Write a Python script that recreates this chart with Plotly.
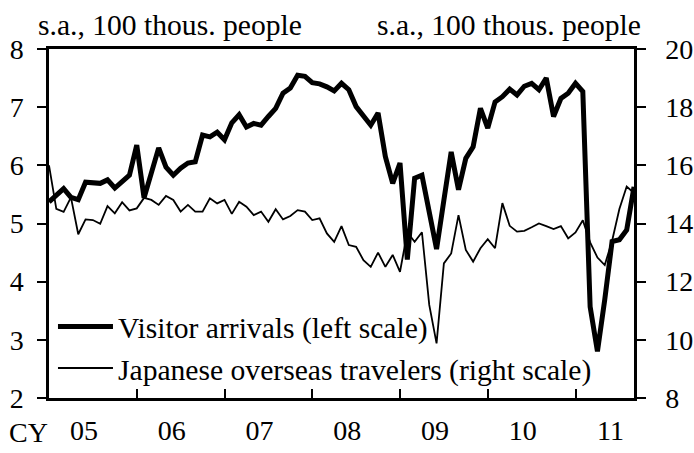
import plotly.graph_objects as go

# Monthly data, Jan 2005 - Sep 2011 (index 0 = Jan 2005)
months = list(range(81))

visitor_arrivals = [
    5.37, 5.49, 5.60, 5.45, 5.41, 5.71, 5.69, 5.69, 5.75, 5.61, 5.72, 5.83,
    6.35, 5.44, 5.87, 6.30, 5.97, 5.83, 5.95, 6.04, 6.06, 6.52, 6.49, 6.57,
    6.44, 6.73, 6.87, 6.66, 6.72, 6.69, 6.84, 6.98, 7.24, 7.33, 7.55, 7.53,
    7.42, 7.40, 7.35, 7.28, 7.41, 7.30, 7.01, 6.84, 6.69, 6.90, 6.15, 5.69,
    6.04, 4.38, 5.78, 5.83, 5.20, 4.56, 5.40, 6.23, 5.58, 6.12, 6.32, 6.98,
    6.64, 7.09, 7.18, 7.31, 7.21, 7.36, 7.41, 7.30, 7.50, 6.84, 7.15, 7.24,
    7.41, 7.27, 3.57, 2.80, 3.69, 4.69, 4.72, 4.89, 5.63,
]

japanese_travelers = [
    16.0, 14.5, 14.4, 14.9, 13.63, 14.14, 14.12, 13.99, 14.6, 14.35, 14.73, 14.45,
    14.52, 14.88, 14.81, 14.64, 14.95, 14.81, 14.41, 14.64, 14.41, 14.41, 14.87, 14.69,
    14.81, 14.33, 14.75, 14.58, 14.29, 14.41, 14.06, 14.49, 14.14, 14.26, 14.46, 14.41,
    14.12, 14.18, 13.66, 13.37, 13.91, 13.26, 13.20, 12.74, 12.51, 13.0, 12.51, 12.92,
    12.34, 13.70, 13.37, 13.70, 11.2, 9.88, 12.63, 12.97, 14.29, 13.09, 12.69, 13.15,
    13.46, 13.15, 14.70, 13.92, 13.72, 13.75, 13.87, 14.0, 13.91, 13.81, 13.91, 13.49,
    13.69, 14.11, 13.35, 12.83, 12.57, 13.40, 14.5, 15.27, 15.05,
]

year_boundaries = [12, 24, 36, 48, 60, 72]
year_label_pos = [4.8, 16.8, 28.8, 40.8, 52.8, 64.8, 76.8]
year_labels = ["05", "06", "07", "08", "09", "10", "11"]

FONT = "Liberation Serif"
TICK_SIZE = 28
TEXT_SIZE = 29.6

fig = go.Figure()
fig.add_trace(go.Scatter(
    x=months, y=visitor_arrivals, mode="lines",
    name="Visitor arrivals (left scale)",
    line=dict(color="black", width=5),
    legendgroup="a", xaxis="x", yaxis="y",
))
fig.add_trace(go.Scatter(
    x=months, y=japanese_travelers, mode="lines",
    name="Japanese overseas travelers (right scale)",
    line=dict(color="black", width=1.8),
    legendgroup="b", xaxis="x", yaxis="y2",
))

fig.update_layout(
    template="none",
    width=694, height=453,
    margin=dict(l=49, r=60, t=49, b=55, pad=0, autoexpand=False),
    paper_bgcolor="white", plot_bgcolor="white",
    font=dict(family=FONT, size=TICK_SIZE, color="black"),
    showlegend=True,
    legend=dict(
        x=0.0068, y=0.2785, xanchor="left", yanchor="top",
        bgcolor="rgba(0,0,0,0)", borderwidth=0,
        font=dict(family=FONT, size=TEXT_SIZE, color="black"),
        tracegroupgap=0, itemwidth=55,
    ),
    xaxis=dict(
        automargin=False, ticklabeloverflow="allow",
        range=[0, 80], tickmode="array", tickvals=year_label_pos, ticktext=year_labels,
        ticks="", ticklabelstandoff=6,
        minor=dict(tickmode="array", tickvals=year_boundaries, ticks="inside",
                   ticklen=9, tickwidth=2, tickcolor="black", showgrid=False),
        showticklabels=True, showline=True, linecolor="black", linewidth=2.5,
        mirror=True, showgrid=False, zeroline=False,
        tickfont=dict(family=FONT, size=TICK_SIZE, color="black"),
    ),
    yaxis=dict(
        automargin=False, ticklabeloverflow="allow",
        range=[2, 8], dtick=1, tick0=2, tickmode="linear",
        ticks="outside", ticklen=9, tickwidth=2, tickcolor="black",
        ticklabelstandoff=8,
        showline=True, linecolor="black", linewidth=2.5,
        showgrid=False, zeroline=False,
        tickfont=dict(family=FONT, size=TICK_SIZE, color="black"),
    ),
    yaxis2=dict(
        automargin=False, ticklabeloverflow="allow",
        range=[8, 20], dtick=2, tick0=8, tickmode="linear",
        overlaying="y", side="right",
        ticks="outside", ticklen=9, tickwidth=2, tickcolor="black",
        ticklabelstandoff=14,
        showline=True, linecolor="black", linewidth=2.5,
        showgrid=False, zeroline=False,
        tickfont=dict(family=FONT, size=TICK_SIZE, color="black"),
    ),
    annotations=[
        dict(text="s.a., 100 thous. people", xref="paper", yref="paper",
             x=(36 - 49) / 585, y=(398 - 25) / 349, xanchor="left", yanchor="middle",
             showarrow=False, font=dict(family=FONT, size=TEXT_SIZE, color="black")),
        dict(text="s.a., 100 thous. people", xref="paper", yref="paper",
             x=(643 - 49) / 585, y=(398 - 25) / 349, xanchor="right", yanchor="middle",
             showarrow=False, font=dict(family=FONT, size=TEXT_SIZE, color="black")),
        dict(text="CY", xref="paper", yref="paper",
             x=(28 - 49) / 585, y=(398 - 432) / 349, xanchor="center", yanchor="middle",
             showarrow=False, font=dict(family=FONT, size=TICK_SIZE, color="black")),
    ],
)

fig.write_html("out.html", config={"displayModeBar": False},
               post_script="document.body.style.margin='0';")
